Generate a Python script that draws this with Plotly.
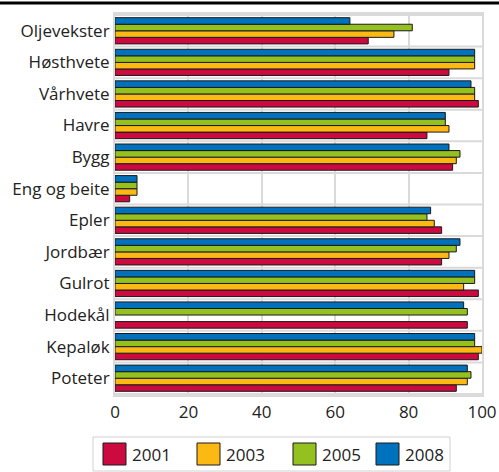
import plotly.graph_objects as go

categories = ["Oljevekster", "Høsthvete", "Vårhvete", "Havre", "Bygg", "Eng og beite",
              "Epler", "Jordbær", "Gulrot", "Hodekål", "Kepaløk", "Poteter"]
years = ["2001", "2003", "2005", "2008"]
v2001 = [69, 91, 99, 85, 92, 4, 89, 89, 99, 96, 99, 93]
v2003 = [76, 98, 98, 91, 93, 6, 87, 91, 95, None, 100, 96]
v2005 = [81, 98, 98, 90, 94, 6, 85, 93, 98, 96, 98, 97]
v2008 = [64, 98, 97, 90, 91, 6, 86, 94, 98, 95, 98, 96]
colors = ["#CC0A3F", "#FDB913", "#94C11F", "#0071BC"]
xticks = [0, 20, 40, 60, 80, 100]

series = [v2001, v2003, v2005, v2008]

W, H = 499, 472
L, R, T, B = 115, 17, 14, 77
PW, PH = W - L - R, H - T - B


def px(x):
    return (x - L) / PW


def py(y):
    return (H - B - y) / PH


fig = go.Figure()
for name, vals, col in zip(years, series, colors):
    fig.add_trace(go.Bar(
        y=categories, x=vals, orientation="h", name=name,
        marker=dict(color=col, line=dict(color="#1a1a1a", width=1)),
        showlegend=False, hoverinfo="skip",
    ))

shapes = []
# category separators
for i in range(len(categories) + 1):
    shapes.append(dict(type="line", xref="paper", yref="y", x0=0, x1=1,
                       y0=i - 0.5, y1=i - 0.5, line=dict(color="#DADADA", width=2), layer="below"))
# top black rule
shapes.append(dict(type="line", xref="paper", yref="paper", x0=px(0), x1=px(W),
                   y0=py(3), y1=py(3), line=dict(color="#000000", width=3)))

# manual legend
annotations = []
shapes.append(dict(type="rect", xref="paper", yref="paper", x0=px(93), x1=px(450),
                   y0=py(471), y1=py(437), line=dict(color="#D0D0D0", width=1), fillcolor="white"))
sw_left = [103, 197, 293, 376]
for name, col, sx in zip(years, colors, sw_left):
    shapes.append(dict(type="rect", xref="paper", yref="paper", x0=px(sx), x1=px(sx + 23),
                       y0=py(465), y1=py(443), line=dict(color="#1a1a1a", width=1), fillcolor=col))
    annotations.append(dict(xref="paper", yref="paper", x=px(sx + 27), y=py(454),
                            xanchor="left", yanchor="middle", text=name, showarrow=False,
                            font=dict(size=17, color="#222222")))

fig.update_layout(
    width=W, height=H,
    margin=dict(l=L, r=R, t=T, b=B, autoexpand=False),
    paper_bgcolor="white", plot_bgcolor="white",
    barmode="group", bargap=0.17, bargroupgap=0,
    font=dict(family="Open Sans", size=17, color="#222222"),
    shapes=shapes, annotations=annotations, showlegend=False,
    xaxis=dict(range=[0, 100], tickvals=xticks, showgrid=True, gridcolor="#DADADA", gridwidth=2,
               zeroline=False, showline=True, linecolor="#DADADA", linewidth=2, mirror=True,
               tickfont=dict(size=17), ticks="outside", ticklen=1, tickcolor="rgba(0,0,0,0)",
               automargin=False),
    yaxis=dict(categoryorder="array", categoryarray=categories[::-1],
               showgrid=False, showline=True, linecolor="#DADADA", linewidth=2, mirror=True,
               ticks="", tickfont=dict(size=17), automargin=False),
)

fig.write_html("out.html", config={"displayModeBar": False},
               post_script="document.body.style.margin='0px';")
